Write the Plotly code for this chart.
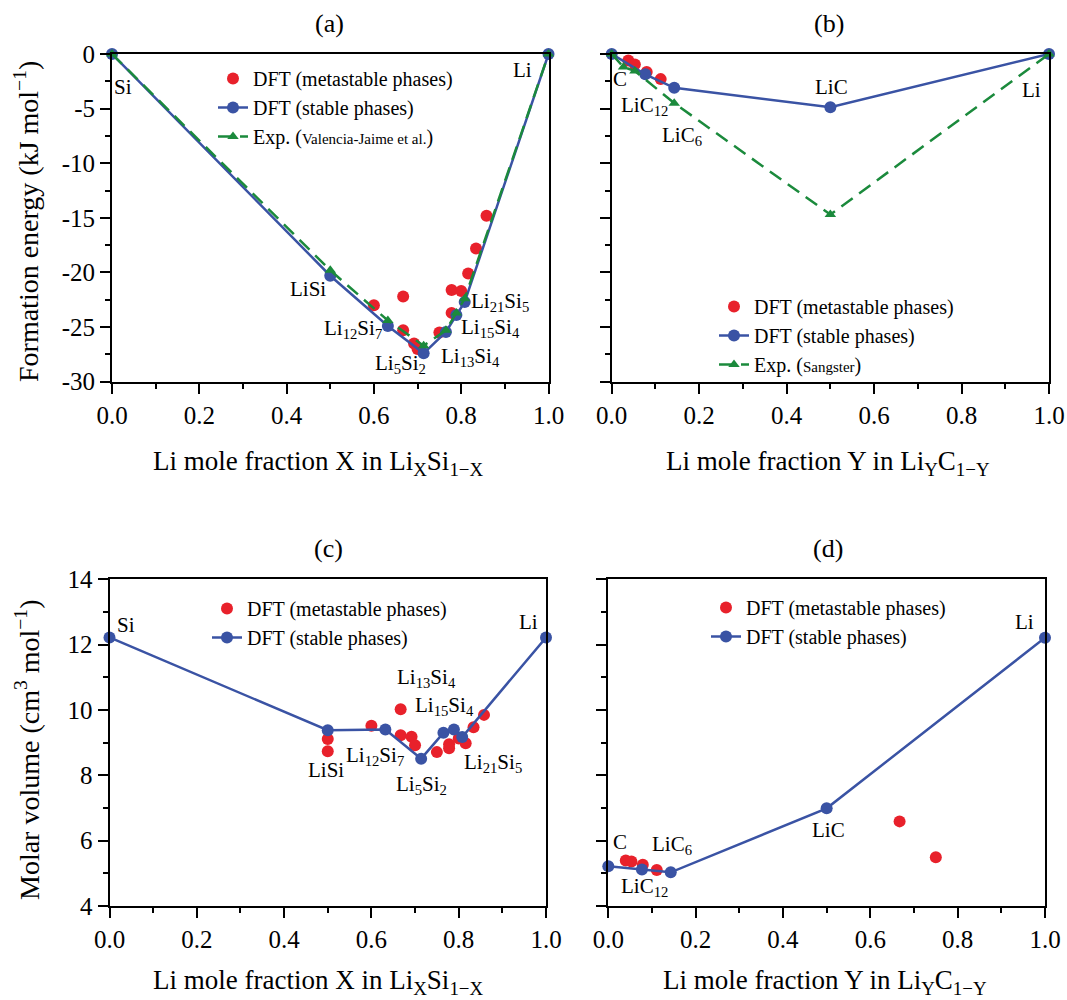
import plotly.graph_objects as go

# ---------------- data ----------------
# Li-Si formation energy (kJ/mol)
x_si_stable = [0.0, 0.5, 0.632, 0.714, 0.765, 0.789, 0.808, 1.0]
ef_si_stable = [0.0, -20.3, -24.9, -27.4, -25.45, -23.9, -22.7, 0.0]
x_si_exp = [0.0, 0.5, 0.632, 0.714, 0.765, 0.789, 0.808, 1.0]
ef_si_exp = [0.0, -19.8, -24.4, -26.7, -25.3, -23.7, -22.4, 0.0]
x_si_meta_ef = [0.600, 0.667, 0.667, 0.692, 0.700, 0.750, 0.778, 0.778, 0.800, 0.816, 0.834, 0.858]
ef_si_meta = [-23.0, -22.2, -25.3, -26.5, -27.0, -25.5, -21.6, -23.7, -21.7, -20.1, -17.8, -14.8]

# Li-C formation energy (kJ/mol)
x_c_stable = [0.0, 0.077, 0.143, 0.5, 1.0]
ef_c_stable = [0.0, -1.86, -3.1, -4.88, 0.0]
x_c_exp = [0.0, 0.027, 0.053, 0.143, 0.5, 1.0]
ef_c_exp = [0.0, -1.2, -1.55, -4.5, -14.7, 0.0]
x_c_meta_ef = [0.038, 0.053, 0.080, 0.112]
ef_c_meta = [-0.6, -0.95, -1.65, -2.3]

# Li-Si molar volume (cm3/mol)
vol_si_stable = [12.22, 9.38, 9.40, 8.51, 9.30, 9.40, 9.17, 12.22]
x_si_meta_v = [0.5, 0.5, 0.600, 0.667, 0.667, 0.692, 0.700, 0.750, 0.778, 0.778, 0.800, 0.816, 0.834, 0.858]
vol_si_meta = [9.11, 8.74, 9.52, 10.02, 9.23, 9.18, 8.92, 8.71, 8.95, 8.83, 9.13, 8.98, 9.47, 9.85]

# Li-C molar volume (cm3/mol)
vol_c_stable = [5.22, 5.12, 5.03, 6.99, 12.21]
x_c_meta_v = [0.040, 0.053, 0.079, 0.111, 0.667, 0.750]
vol_c_meta = [5.39, 5.36, 5.26, 5.10, 6.59, 5.49]

x_tickvals = [0.0, 0.2, 0.4, 0.6, 0.8, 1.0]
x_ticktext = ["0.0", "0.2", "0.4", "0.6", "0.8", "1.0"]
ef_tickvals = [0, -5, -10, -15, -20, -25, -30]
ef_ticktext = ["0", "-5", "-10", "-15", "-20", "-25", "-30"]
vol_tickvals = [4, 6, 8, 10, 12, 14]
vol_ticktext = ["4", "6", "8", "10", "12", "14"]

# ---------------- style ----------------
W, H = 1067, 1000
FONT = "Liberation Serif, Times New Roman, serif"
RED = "#E8212B"
BLUE = "#3A53A4"
GREEN = "#1B8A3C"
TICKF = 25
TITLEF = 27
YTITLEF = 28
LEGF = 20
LABF = 21

def px_dom(a, b):
    return [a / W, b / W]

def py_dom(top, bottom):
    return [1 - bottom / H, 1 - top / H]

panels = {
    1: dict(xd=px_dom(112, 548.5), yd=py_dom(54, 381.7)),
    2: dict(xd=px_dom(611.7, 1049), yd=py_dom(54, 381.7)),
    3: dict(xd=px_dom(109.5, 546), yd=py_dom(579.3, 906)),
    4: dict(xd=px_dom(608.3, 1045), yd=py_dom(579.3, 906)),
}

fig = go.Figure()

def add_panel(n, x_meta, y_meta, x_st, y_st, x_ex=None, y_ex=None, leg="legend", exp_name=None):
    xa = "x" if n == 1 else f"x{n}"
    ya = "y" if n == 1 else f"y{n}"
    fig.add_trace(go.Scatter(x=x_meta, y=y_meta, mode="markers", xaxis=xa, yaxis=ya,
                             marker=dict(color=RED, size=12), name="DFT (metastable phases)",
                             legend=leg, cliponaxis=False))
    fig.add_trace(go.Scatter(x=x_st, y=y_st, mode="lines+markers", xaxis=xa, yaxis=ya,
                             line=dict(color=BLUE, width=2.5),
                             marker=dict(color=BLUE, size=12), name="DFT (stable phases)",
                             legend=leg, cliponaxis=False))
    if x_ex is not None:
        fig.add_trace(go.Scatter(x=x_ex, y=y_ex, mode="lines+markers", xaxis=xa, yaxis=ya,
                                 line=dict(color=GREEN, width=2.5, dash="14px,8px"),
                                 marker=dict(color=GREEN, size=10, symbol="triangle-up"),
                                 name=exp_name, legend=leg, cliponaxis=False))

add_panel(1, x_si_meta_ef, ef_si_meta, x_si_stable, ef_si_stable, x_si_exp, ef_si_exp, "legend",
          "Exp. (<span style='font-size:15px'>Valencia-Jaime et al.</span>)")
add_panel(2, x_c_meta_ef, ef_c_meta, x_c_stable, ef_c_stable, x_c_exp, ef_c_exp, "legend2",
          "Exp. (<span style='font-size:15px'>Sangster</span>)")
add_panel(3, x_si_meta_v, vol_si_meta, x_si_stable, vol_si_stable, leg="legend3")
add_panel(4, x_c_meta_v, vol_c_meta, x_c_stable, vol_c_stable, leg="legend4")

layout = dict(
    width=W, height=H, margin=dict(l=0, r=0, t=0, b=0, autoexpand=False),
    plot_bgcolor="white", paper_bgcolor="white",
    font=dict(family=FONT, size=TICKF, color="black"),
)

for n, p in panels.items():
    xk = "xaxis" if n == 1 else f"xaxis{n}"
    yk = "yaxis" if n == 1 else f"yaxis{n}"
    xa = "x" if n == 1 else f"x{n}"
    ya = "y" if n == 1 else f"y{n}"
    if n in (1, 2):
        yr, ytv, ytt, ymin = [-30, 0], ef_tickvals, ef_ticktext, 2.5
    else:
        yr, ytv, ytt, ymin = [4, 14], vol_tickvals, vol_ticktext, 1
    show_ylab = n in (1, 3)
    layout[xk] = dict(domain=p["xd"], anchor=ya, range=[0, 1], tickvals=x_tickvals, ticktext=x_ticktext,
                      ticks="outside", ticklen=10, tickwidth=2, tickcolor="black",
                      showline=True, linecolor="black", linewidth=2, mirror=True,
                      showgrid=False, zeroline=False, tickfont=dict(size=TICKF), automargin=False,
                      minor=dict(ticks="outside", ticklen=5, tickwidth=2, dtick=0.1, tick0=0,
                                 tickcolor="black", showgrid=False))
    layout[yk] = dict(domain=p["yd"], anchor=xa, range=yr, tickvals=ytv, ticktext=ytt,
                      showticklabels=show_ylab,
                      ticks="outside", ticklen=10, tickwidth=2, tickcolor="black",
                      showline=True, linecolor="black", linewidth=2, mirror=True,
                      showgrid=False, zeroline=False, tickfont=dict(size=TICKF), automargin=False,
                      minor=dict(ticks="outside", ticklen=5, tickwidth=2, dtick=ymin, tick0=0,
                                 tickcolor="black", showgrid=False))
    # overlay axes for inward ticks on top / right
    layout[f"xaxis{n + 4}"] = dict(overlaying=xa, anchor=ya, side="top", range=[0, 1],
                                   tickvals=x_tickvals, showticklabels=False, automargin=False,
                                   ticks="inside", ticklen=9, tickwidth=2, tickcolor="black",
                                   showline=False, showgrid=False, zeroline=False,
                                   minor=dict(ticks="inside", ticklen=5, tickwidth=2, dtick=0.1,
                                              tick0=0, tickcolor="black", showgrid=False))
    layout[f"yaxis{n + 4}"] = dict(overlaying=ya, anchor=xa, side="right", range=yr,
                                   tickvals=ytv, showticklabels=False, automargin=False,
                                   ticks="inside", ticklen=9, tickwidth=2, tickcolor="black",
                                   showline=False, showgrid=False, zeroline=False,
                                   minor=dict(ticks="inside", ticklen=5, tickwidth=2, dtick=ymin,
                                              tick0=0, tickcolor="black", showgrid=False))

def legend_at(left_px, top_px):
    return dict(x=left_px / W, y=1 - top_px / H, xanchor="left", yanchor="top",
                bgcolor="rgba(0,0,0,0)", borderwidth=0, font=dict(family=FONT, size=LEGF),
                tracegroupgap=0, itemwidth=30)

layout["legend"] = legend_at(213, 59)
layout["legend2"] = legend_at(714, 287)
layout["legend3"] = legend_at(207, 589)
layout["legend4"] = legend_at(706, 588)

fig.update_layout(**layout)

ann = []
def lab(text, x, y, ref, size=LABF):
    xr = "x" if ref == 1 else f"x{ref}"
    yr = "y" if ref == 1 else f"y{ref}"
    ann.append(dict(text=text, x=x, y=y, xref=xr, yref=yr, showarrow=False,
                    font=dict(family=FONT, size=size, color="black")))

# panel (a) labels
lab("Si", 0.026, -3.0, 1)
lab("Li", 0.94, -1.5, 1)
lab("LiSi", 0.45, -21.5, 1)
lab("Li<sub>12</sub>Si<sub>7</sub>", 0.553, -25.2, 1)
lab("Li<sub>5</sub>Si<sub>2</sub>", 0.66, -28.4, 1)
lab("Li<sub>13</sub>Si<sub>4</sub>", 0.821, -27.7, 1)
lab("Li<sub>15</sub>Si<sub>4</sub>", 0.867, -25.1, 1)
lab("Li<sub>21</sub>Si<sub>5</sub>", 0.89, -22.7, 1)
# panel (b) labels
lab("C", 0.02, -2.3, 2)
lab("LiC<sub>12</sub>", 0.075, -4.75, 2)
lab("LiC<sub>6</sub>", 0.161, -7.5, 2)
lab("LiC", 0.503, -3.0, 2)
lab("Li", 0.96, -3.3, 2)
# panel (c) labels
lab("Si", 0.038, 12.6, 3)
lab("Li", 0.96, 12.68, 3)
lab("Li<sub>13</sub>Si<sub>4</sub>", 0.726, 10.98, 3)
lab("Li<sub>15</sub>Si<sub>4</sub>", 0.768, 10.13, 3)
lab("LiSi", 0.495, 8.15, 3)
lab("Li<sub>12</sub>Si<sub>7</sub>", 0.608, 8.58, 3)
lab("Li<sub>5</sub>Si<sub>2</sub>", 0.715, 7.71, 3)
lab("Li<sub>21</sub>Si<sub>5</sub>", 0.879, 8.38, 3)
# panel (d) labels
lab("C", 0.027, 5.95, 4)
lab("LiC<sub>6</sub>", 0.145, 5.86, 4)
lab("LiC<sub>12</sub>", 0.084, 4.57, 4)
lab("LiC", 0.505, 6.32, 4)
lab("Li", 0.954, 12.7, 4)

def paper_text(text, xpx, ypx, size, angle=0):
    ann.append(dict(text=text, x=xpx / W, y=1 - ypx / H, xref="paper", yref="paper",
                    showarrow=False, textangle=angle, xanchor="center", yanchor="middle",
                    font=dict(family=FONT, size=size, color="black")))

# panel titles
paper_text("(a)", 329, 23, 26)
paper_text("(b)", 829, 23, 26)
paper_text("(c)", 328, 548, 26)
paper_text("(d)", 828, 548, 26)
# axis titles
paper_text("Li mole fraction X in Li<sub>X</sub>Si<sub>1\u2212X</sub>", 318, 463, TITLEF)
paper_text("Li mole fraction Y in Li<sub>Y</sub>C<sub>1\u2212Y</sub>", 828, 463, TITLEF)
paper_text("Li mole fraction X in Li<sub>X</sub>Si<sub>1\u2212X</sub>", 318, 982, TITLEF)
paper_text("Li mole fraction Y in Li<sub>Y</sub>C<sub>1\u2212Y</sub>", 825, 982, TITLEF)
paper_text("Formation energy (kJ mol<sup>\u22121</sup>)", 27, 222, YTITLEF, -90)
paper_text("Molar volume (cm<sup>3</sup> mol<sup>\u22121</sup>)", 27, 750, YTITLEF, -90)

fig.update_layout(annotations=ann)

fig.write_html("out.html", config={"displayModeBar": False},
               post_script="document.body.style.margin='0';")
